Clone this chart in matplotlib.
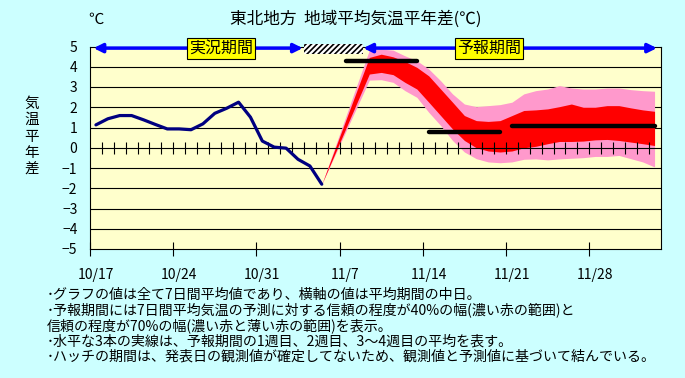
import matplotlib
matplotlib.use('Agg')
import matplotlib.pyplot as plt
import numpy as np
from matplotlib.patches import Rectangle

plt.rcParams['font.family'] = ['Noto Sans CJK JP', 'DejaVu Sans']
plt.rcParams['hatch.color'] = 'black'
plt.rcParams['hatch.linewidth'] = 1.2

# ---------------- data ----------------
n_days = 48                      # 10/17 .. 12/3 (category axis)
xlabels = ['10/17', '10/24', '10/31', '11/7', '11/14', '11/21', '11/28']
label_idx = [0, 7, 14, 21, 28, 35, 42]
yticks = [5, 4, 3, 2, 1, 0, -1, -2, -3, -4, -5]

# observed 7-day mean anomaly (categories 0..19)
obs_idx = list(range(20))
obs = [1.13, 1.43, 1.59, 1.59, 1.38, 1.15, 0.93, 0.93, 0.89, 1.18,
       1.70, 1.95, 2.25, 1.51, 0.33, 0.03, -0.02, -0.57, -0.90, -1.80]

# forecast bands (category 19 = last observation, then 23..47)
fc_idx = [19] + list(range(23, 48))
upper70 = [-1.80, 4.82, 4.87, 4.82, 4.54, 4.30, 3.89, 3.31, 2.66, 2.16, 2.03, 2.08, 2.13,
           2.25, 2.66, 2.82, 2.90, 3.07, 2.95, 2.90, 2.90, 2.95, 2.95, 2.87, 2.82, 2.79]
upper40 = [-1.80, 4.46, 4.62, 4.49, 4.26, 3.97, 3.55, 2.90, 2.25, 1.59, 1.34, 1.30, 1.34,
           1.59, 1.84, 1.87, 1.92, 2.03, 2.16, 2.00, 2.00, 2.08, 2.08, 1.97, 1.87, 1.80]
lower40 = [-1.80, 3.64, 3.72, 3.61, 3.23, 2.90, 2.25, 1.59, 0.93, 0.36, 0.00, -0.16, -0.21,
           -0.16, 0.00, 0.07, 0.20, 0.31, 0.31, 0.33, 0.39, 0.41, 0.36, 0.28, 0.20, 0.11]
lower70 = [-1.80, 3.34, 3.36, 3.23, 2.82, 2.49, 1.75, 1.10, 0.36, -0.21, -0.54, -0.70, -0.74,
           -0.70, -0.57, -0.55, -0.60, -0.55, -0.52, -0.49, -0.43, -0.43, -0.38, -0.54, -0.70, -0.95]

# weekly means (1st week, 2nd week, 3-4th week)
week_start = [21, 28, 35]
week_end = [27, 34, 47]
week_val = [4.30, 0.80, 1.05]

# periods
obs_period = (0.3, 17.9)
hatch_period = (18.0, 23.0)
fc_period = (23.0, 47.7)

notes = [
    '･グラフの値は全て7日間平均値であり、横軸の値は平均期間の中日。',
    '･予報期間には7日間平均気温の予測に対する信頼の程度が40%の幅(濃い赤の範囲)と',
    '信頼の程度が70%の幅(濃い赤と薄い赤の範囲)を表示。',
    '･水平な3本の実線は、予報期間の1週目、2週目、3～4週目の平均を表す。',
    '･ハッチの期間は、発表日の観測値が確定してないため、観測値と予測値に基づいて結んでいる。',
]

# ---------------- figure ----------------
W, H = 685, 378
fig = plt.figure(figsize=(W / 100, H / 100), dpi=100, facecolor='#CCFFFF')
ax = fig.add_axes([90 / W, 1 - 249 / H, (660.5 - 90) / W, (249 - 46.5) / H])
ax.set_facecolor('#FFFFCC')
ax.set_xlim(0, n_days)
ax.set_ylim(-5, 5)

for v in yticks:
    if v not in (0, 5, -5):
        ax.axhline(v, color='black', lw=0.8, zorder=1)

fx = np.array(fc_idx) + 0.5
ax.fill_between(fx, lower70, upper70, color='#FF99CC', lw=0, zorder=2)
ax.fill_between(fx, lower40, upper40, color='#FF0000', lw=0, zorder=3)

ax.axhline(0, color='black', lw=0.8, zorder=4)
day_ticks = np.arange(1, n_days)
ax.plot(day_ticks, np.zeros_like(day_ticks), ls='none', marker='|', ms=9,
        mew=0.8, color='black', zorder=4)

for s, e, v in zip(week_start, week_end, week_val):
    ax.plot([s + 0.5, e + 0.5], [v, v], color='black', lw=3.2,
            solid_capstyle='round', zorder=5)

ax.plot(np.array(obs_idx) + 0.5, obs, color='#000080', lw=2.3,
        solid_capstyle='round', solid_joinstyle='round', zorder=6)

# period indicators
ya = 4.92
ax.add_patch(Rectangle((hatch_period[0], 4.62), hatch_period[1] - hatch_period[0], 0.5,
                       hatch='//////', facecolor='white', edgecolor='black', lw=0,
                       clip_on=False, zorder=7))
for a, b in (obs_period, fc_period):
    ax.annotate('', xy=(a, ya), xytext=(b, ya), annotation_clip=False,
                arrowprops=dict(arrowstyle='<|-|>', color='#0000FF', lw=2.5,
                                mutation_scale=13, shrinkA=0, shrinkB=0), zorder=7)
for xc, txt in ((11.0, '実況期間'), (33.6, '予報期間')):
    ax.text(xc, ya, txt, ha='center', va='center', fontsize=11.5, zorder=8,
            bbox=dict(boxstyle='square,pad=0.12', fc='#FFFF00', ec='black', lw=0.8))

# axes styling
for sp in ax.spines.values():
    sp.set_color('black')
    sp.set_linewidth(0.8)
ax.set_xticks(label_idx)
ax.set_xticklabels([])
ax.tick_params(axis='x', which='major', direction='inout', length=10, width=0.8)
ax.set_xticks([i + 0.5 for i in label_idx], minor=True)
ax.set_xticklabels(xlabels, minor=True)
ax.tick_params(axis='x', which='minor', length=0, pad=14, labelsize=10)
ax.set_yticks(yticks)
ax.tick_params(axis='y', length=0, pad=9, labelsize=10)

# texts
fig.text(95.5 / W, 1 - 19 / H, '℃', ha='center', va='center', fontsize=11)
fig.text(355.5 / W, 1 - 19 / H, '東北地方  地域平均気温平年差(℃)', ha='center',
         va='center', fontsize=12)
fig.text(32 / W, 1 - 136.5 / H, '\n'.join('気温平年差'), ha='center', va='center',
         fontsize=10.5, linespacing=1.2)
for i, line in enumerate(notes):
    fig.text(46.7 / W, 1 - (294.5 + 15.6 * i) / H, line, ha='left', va='center',
             fontsize=10.1)

fig.savefig('out.png', dpi=100, facecolor=fig.get_facecolor())
